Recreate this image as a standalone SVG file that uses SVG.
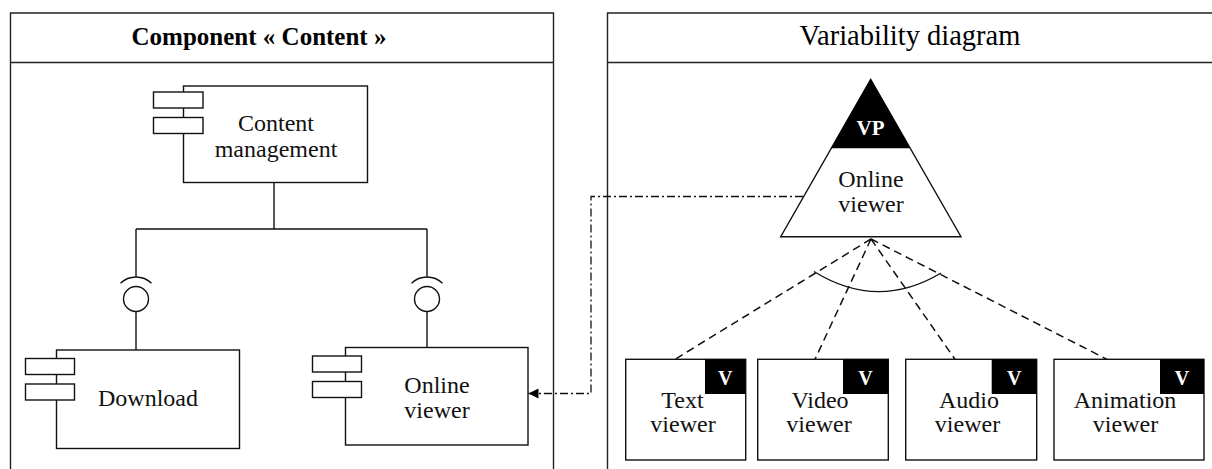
<svg xmlns="http://www.w3.org/2000/svg" width="1212" height="469" viewBox="0 0 1212 469">
<defs>
<style>
.frame{fill:none;stroke:#222;stroke-width:1.4}
.box{fill:#fff;stroke:#111;stroke-width:1.4}
.ln{fill:none;stroke:#111;stroke-width:1.4}
.dash{fill:none;stroke:#111;stroke-width:1.5;stroke-dasharray:8 5}
.dashdot{fill:none;stroke:#111;stroke-width:1.3;stroke-dasharray:8 3 2 3}
.t{font-family:"Liberation Serif","Times New Roman",serif;font-size:24px;fill:#111;text-anchor:middle}
.tw{font-family:"Liberation Serif","Times New Roman",serif;font-size:20px;font-weight:bold;fill:#fff;text-anchor:middle}
</style>
<marker id="arr" markerWidth="11" markerHeight="10" refX="10" refY="5" orient="auto" markerUnits="userSpaceOnUse">
<path d="M0,0 L10,5 L0,10 Z" fill="#000"/>
</marker>
</defs>
<rect width="1212" height="469" fill="#fff"/>

<g id="frame-component">
<path class="frame" d="M10.5,480 V13 H553.5 V480 M10.5,62.5 H553.5"/>
<text x="259" y="45" font-family="Liberation Serif,serif" font-weight="bold" font-size="25" text-anchor="middle" fill="#000">Component « Content »</text>
</g>

<g id="frame-variability">
<path class="frame" d="M607.5,480 V13 H1220 M607.5,62.5 H1220"/>
<text x="910" y="45" font-family="Liberation Serif,serif" font-size="28.5" text-anchor="middle" fill="#000">Variability diagram</text>
</g>

<g id="content-management">
<rect class="box" x="183.5" y="86" width="184" height="96.5"/>
<rect class="box" x="153.5" y="92" width="49.5" height="16"/>
<rect class="box" x="153.5" y="117.5" width="49.5" height="16"/>
<text class="t" x="276" y="131">Content</text>
<text class="t" x="276" y="157">management</text>
</g>

<g id="download">
<rect class="box" x="56.5" y="350" width="183" height="98.5"/>
<rect class="box" x="25.5" y="358.5" width="49" height="16"/>
<rect class="box" x="25.5" y="384" width="49" height="16"/>
<text class="t" x="148" y="406">Download</text>
</g>

<g id="online-viewer-component">
<rect class="box" x="345.5" y="347.5" width="182.5" height="97.5"/>
<rect class="box" x="312.5" y="356" width="49" height="16"/>
<rect class="box" x="312.5" y="381.5" width="49" height="16"/>
<text class="t" x="437" y="393">Online</text>
<text class="t" x="437" y="418">viewer</text>
</g>

<g id="vp-online-viewer">
<polygon points="870.7,79.3 780.7,236.7 961,236.7" fill="#fff" stroke="#111" stroke-width="1.4"/>
<polygon points="870.7,79.3 831,148.3 910.4,148.3" fill="#000"/>
<text x="870.5" y="135" font-family="Liberation Serif,serif" font-weight="bold" font-size="21" text-anchor="middle" fill="#fff">VP</text>
<text class="t" x="871" y="187">Online</text>
<text class="t" x="871" y="212">viewer</text>
</g>

<g id="text-viewer">
<rect class="box" x="625.7" y="359.3" width="120" height="100.7"/>
<rect x="705" y="359.3" width="40.7" height="34.7" fill="#000"/>
<text class="tw" x="725.3" y="384.5">V</text>
<text class="t" x="682.5" y="407.5">Text</text>
<text class="t" x="683" y="432">viewer</text>
</g>

<g id="video-viewer">
<rect class="box" x="757.7" y="359.3" width="130.6" height="100.7"/>
<rect x="843" y="359.3" width="45.3" height="34.7" fill="#000"/>
<text class="tw" x="865.6" y="384.5">V</text>
<text class="t" x="820" y="407.5">Video</text>
<text class="t" x="819" y="432">viewer</text>
</g>

<g id="audio-viewer">
<rect class="box" x="905.7" y="359.3" width="131" height="100.7"/>
<rect x="991.7" y="359.3" width="45" height="34.7" fill="#000"/>
<text class="tw" x="1014.2" y="384.5">V</text>
<text class="t" x="969" y="407.5">Audio</text>
<text class="t" x="967.5" y="432">viewer</text>
</g>

<g id="animation-viewer">
<rect class="box" x="1054" y="359.3" width="150" height="100.7"/>
<rect x="1160" y="359.3" width="44" height="34.7" fill="#000"/>
<text class="tw" x="1182" y="384.5">V</text>
<text class="t" x="1125" y="407.5">Animation</text>
<text class="t" x="1125.5" y="432">viewer</text>
</g>

<g id="connectors">
<path class="ln" d="M274,182.5 V229 M136,229 H427 M136,229 V276.7 M427,229 V276.7"/>
<path class="ln" d="M120.5,283.3 A22.3,22.3 0 0 1 151.5,283.3"/>
<circle class="ln" cx="136" cy="299" r="12.5"/>
<path class="ln" d="M136,311.5 V350"/>
<path class="ln" d="M411.5,283.3 A22.3,22.3 0 0 1 442.5,283.3"/>
<circle class="ln" cx="427" cy="299" r="12.5"/>
<path class="ln" d="M427,311.5 V347.5"/>
<path class="dashdot" d="M803,196.5 H591 V393.5 H528.5" marker-end="url(#arr)"/>
<path class="dash" d="M871,239 L675,359.3"/>
<path class="dash" d="M871,239 L815,359.3"/>
<path class="dash" d="M871,239 L955,359.3"/>
<path class="dash" d="M871,239 L1107,359.3"/>
<path class="ln" d="M814,271.5 Q877.7,311 941,273"/>
</g>
</svg>
